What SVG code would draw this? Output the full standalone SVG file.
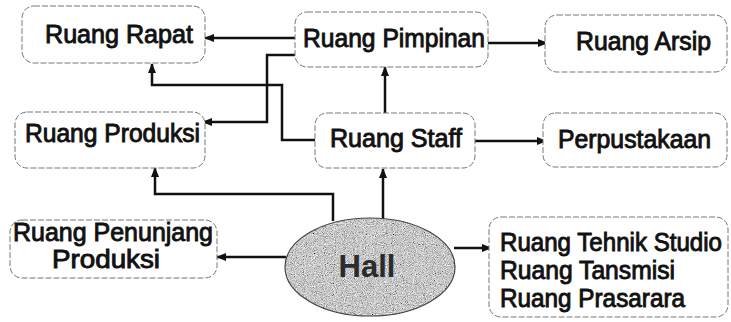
<svg xmlns="http://www.w3.org/2000/svg" width="731" height="322" viewBox="0 0 731 322">
<style>
.box{fill:#fff;stroke:#777;stroke-width:1;stroke-dasharray:6 2}
.lbl{font-family:"Liberation Sans",Arial,sans-serif;font-size:25px;fill:#111;stroke:#111;stroke-width:0.9}
.con{fill:none;stroke:#111;stroke-width:2.5;marker-end:url(#arr)}
</style>
<defs>
<marker id="arr" viewBox="0 0 10 8" refX="9" refY="4" markerWidth="10" markerHeight="8" markerUnits="userSpaceOnUse" orient="auto"><path d="M0,0 L10,4 L0,8 z" fill="#111"/></marker>
<filter id="speckle" x="-5%" y="-5%" width="110%" height="110%">
<feTurbulence type="fractalNoise" baseFrequency="1.1" numOctaves="1" seed="7"/>
<feColorMatrix type="matrix" values="0.33 0.33 0.33 0 0 0.33 0.33 0.33 0 0 0.33 0.33 0.33 0 0 0 0 0 0 1"/>
<feComponentTransfer><feFuncR type="linear" slope="2.6" intercept="-0.72"/><feFuncG type="linear" slope="2.6" intercept="-0.72"/><feFuncB type="linear" slope="2.6" intercept="-0.72"/></feComponentTransfer>
<feComposite in2="SourceGraphic" operator="in"/>
</filter>
</defs>
<rect width="731" height="322" fill="#fff"/>
<g id="connectors">
<path class="con" d="M295,38 H205"/>
<path class="con" d="M488,43 H547"/>
<path class="con" d="M385,113 V67"/>
<path class="con" d="M383,219 V169"/>
<path class="con" d="M475,141 H546"/>
<path class="con" d="M333,221 V194 H155 V168"/>
<path class="con" d="M286,257 H217"/>
<path class="con" d="M454,248 H491"/>
<path class="con" d="M295,55 H267 V122 H203"/>
<path class="con" d="M315,140 H282 V85 H152 V64"/>
</g>
<g id="rapat"><rect class="box" x="22" y="6" width="183" height="57" rx="12"/><text class="lbl" x="45" y="43" textLength="148" lengthAdjust="spacingAndGlyphs">Ruang Rapat</text></g>
<g id="pimpinan"><rect class="box" x="295" y="12" width="193" height="55" rx="12"/><text class="lbl" x="303" y="47" textLength="182" lengthAdjust="spacingAndGlyphs">Ruang Pimpinan</text></g>
<g id="arsip"><rect class="box" x="545" y="15" width="182" height="57" rx="12"/><text class="lbl" x="576" y="50" textLength="135" lengthAdjust="spacingAndGlyphs">Ruang Arsip</text></g>
<g id="produksi"><rect class="box" x="15" y="112" width="190" height="56" rx="12"/><text class="lbl" x="25" y="142" textLength="175" lengthAdjust="spacingAndGlyphs">Ruang Produksi</text></g>
<g id="staff"><rect class="box" x="315" y="113" width="160" height="55" rx="12"/><text class="lbl" x="330" y="147" textLength="132" lengthAdjust="spacingAndGlyphs">Ruang Staff</text></g>
<g id="perpustakaan"><rect class="box" x="543" y="113" width="184" height="54" rx="12"/><text class="lbl" x="558" y="148" textLength="153" lengthAdjust="spacingAndGlyphs">Perpustakaan</text></g>
<g id="penunjang"><rect class="box" x="10" y="220" width="207" height="58" rx="12"/><text class="lbl" x="13" y="241" textLength="200" lengthAdjust="spacingAndGlyphs">Ruang Penunjang</text><text class="lbl" x="52" y="268" textLength="108" lengthAdjust="spacingAndGlyphs">Produksi</text></g>
<g id="hall"><ellipse cx="370" cy="267" rx="85" ry="49" fill="#000" filter="url(#speckle)"/><ellipse cx="370" cy="267" rx="85" ry="49" fill="none" stroke="#444" stroke-width="1.2"/><text x="367" y="277" text-anchor="middle" font-family="Liberation Sans,Arial,sans-serif" font-size="31" font-weight="bold" fill="#2b2b2b">Hall</text></g>
<g id="teknik"><rect class="box" x="489" y="217" width="239" height="100" rx="12"/><text class="lbl" x="500" y="251" textLength="222" lengthAdjust="spacingAndGlyphs">Ruang Tehnik Studio</text><text class="lbl" x="500" y="279" textLength="175" lengthAdjust="spacingAndGlyphs">Ruang Tansmisi</text><text class="lbl" x="500" y="307" textLength="185" lengthAdjust="spacingAndGlyphs">Ruang Prasarara</text></g>
</svg>
